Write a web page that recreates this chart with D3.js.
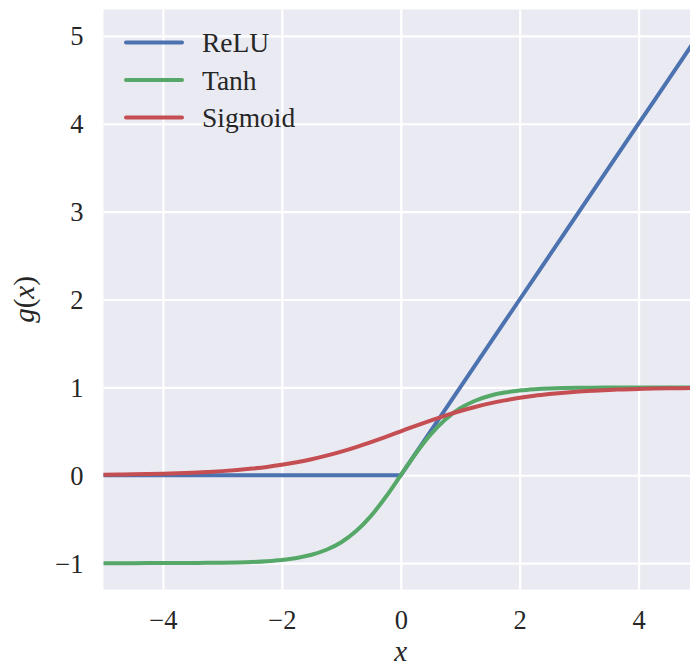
<!DOCTYPE html>
<html><head><meta charset="utf-8">
<script src="https://cdn.jsdelivr.net/npm/d3@7/dist/d3.min.js"></script>
<style>html,body{margin:0;padding:0;background:#fff;overflow:hidden}</style>
</head><body><svg id="c" width="690" height="662"></svg>
<script>
const xs = [-5,-4.75,-4.5,-4.25,-4,-3.75,-3.5,-3.25,-3,-2.75,-2.5,-2.25,-2,-1.75,-1.5,-1.25,-1,-0.75,-0.5,-0.25,0,
  0.25,0.5,0.75,1,1.25,1.5,1.75,2,2.25,2.5,2.75,3,3.25,3.5,3.75,4,4.25,4.5,4.75,5];
const reluValues = [0,0,0,0,0,0,0,0,0,0,0,0,0,0,0,0,0,0,0,0,0,
  0.25,0.5,0.75,1,1.25,1.5,1.75,2,2.25,2.5,2.75,3,3.25,3.5,3.75,4,4.25,4.5,4.75,5];
const tanhValues = [-1.000,-1.000,-1.000,-0.999,-0.999,-0.999,-0.998,-0.997,-0.995,-0.992,-0.987,-0.978,-0.964,-0.941,-0.905,-0.848,-0.762,-0.635,-0.462,-0.245,0,
  0.245,0.462,0.635,0.762,0.848,0.905,0.941,0.964,0.978,0.987,0.992,0.995,0.997,0.998,0.999,0.999,0.999,1.000,1.000,1.000];
const sigmoidValues = [0.007,0.009,0.011,0.014,0.018,0.023,0.029,0.037,0.047,0.060,0.076,0.095,0.119,0.148,0.182,0.223,0.269,0.321,0.378,0.438,0.5,
  0.562,0.622,0.679,0.731,0.777,0.818,0.852,0.881,0.905,0.924,0.940,0.953,0.963,0.971,0.977,0.982,0.986,0.989,0.991,0.993];
const seriesNames = ["ReLU","Tanh","Sigmoid"];
const seriesColors = ["#4C72B0","#55A868","#C44E52"];
const xTicks = [-4,-2,0,2,4];
const yTicks = [-1,0,1,2,3,4,5];

const font = "'Liberation Serif','Times New Roman',serif";
const svg = d3.select("#c");
const L = 103.5, R = 698, T = 9.5, B = 589.5;
const x = d3.scaleLinear().domain([-5,5]).range([L,R]);
const y = d3.scaleLinear().domain([-1.3,5.3]).range([B,T]);

svg.append("rect").attr("x",L).attr("y",T).attr("width",R-L).attr("height",B-T).attr("fill","#EAEAF2");

const fmt = d => d<0 ? "\u2212"+Math.abs(d) : String(d);
const gx = svg.append("g").attr("transform",`translate(0,${B})`)
  .call(d3.axisBottom(x).tickValues(xTicks).tickSize(-(B-T)).tickPadding(21).tickFormat(fmt));
const gy = svg.append("g").attr("transform",`translate(${L},0)`)
  .call(d3.axisLeft(y).tickValues(yTicks).tickSize(-(R-L)).tickPadding(20).tickFormat(fmt));
[gx,gy].forEach(g => {
  g.select(".domain").remove();
  g.selectAll(".tick line").attr("stroke","#fff").attr("stroke-width",2.2);
  g.selectAll(".tick text").attr("fill","#262626").style("font-family",font).style("font-size","26.5px");
});
gy.selectAll(".tick text").attr("dy","0.34em");
gx.selectAll(".tick text").attr("dy","0.71em");

svg.append("clipPath").attr("id","pc").append("rect")
  .attr("x",L).attr("y",T).attr("width",R-L).attr("height",B-T);

const seriesValues = [reluValues, tanhValues, sigmoidValues];
const plot = svg.append("g").attr("clip-path","url(#pc)");
seriesValues.forEach((vals,i) => {
  const line = d3.line().x((d,j)=>x(xs[j])).y(d=>y(d))
    .curve(i===0 ? d3.curveLinear : d3.curveMonotoneX);
  plot.append("path").datum(vals).attr("d",line).attr("fill","none")
    .attr("stroke",seriesColors[i]).attr("stroke-width",4).attr("stroke-linejoin","round").attr("stroke-linecap","round");
});

// legend
const leg = svg.append("g");
seriesNames.forEach((n,i) => {
  const yy = 42.5 + i*37.5;
  leg.append("line").attr("x1",126).attr("x2",182).attr("y1",yy).attr("y2",yy)
    .attr("stroke",seriesColors[i]).attr("stroke-width",4).attr("stroke-linecap","round");
  leg.append("text").attr("x",202).attr("y",yy + 9.5).text(n)
    .attr("fill","#262626").style("font-family",font).style("font-size","27.5px");
});

// axis labels (the reference shows the x label partly cut by the bottom edge)
svg.append("text").attr("x",x(0)).attr("y",661).attr("text-anchor","middle")
  .attr("fill","#262626").style("font-family",font).style("font-size","29px").style("font-style","italic")
  .text("x");
const yl = svg.append("text").attr("transform",`translate(34,${(T+B)/2}) rotate(-90)`).attr("text-anchor","middle")
  .attr("fill","#262626").style("font-family",font).style("font-size","29px");
yl.append("tspan").style("font-style","italic").text("g");
yl.append("tspan").text("(");
yl.append("tspan").style("font-style","italic").text("x");
yl.append("tspan").text(")");
</script></body></html>
